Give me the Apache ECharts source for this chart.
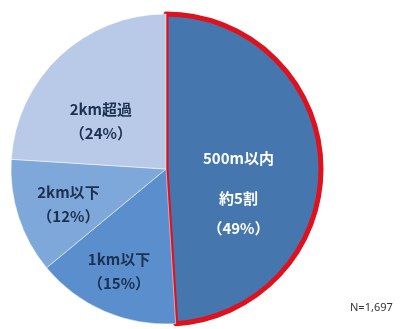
<!DOCTYPE html>
<html><head><meta charset="utf-8">
<script src="https://cdn.jsdelivr.net/npm/echarts@6/dist/echarts.min.js"></script>
<style>html,body{margin:0;padding:0;background:#fff}#c{width:418px;height:329px}</style>
</head><body><div id="c"></div>
<script>
var categories = ['500m以内', '1km以下', '2km以下', '2km超過'];
var values = [49, 15, 12, 24];
var noteText = 'N=1,697';

var colors = ['#4577ae', '#5a8ecc', '#7ea8da', '#b8cae7'];
var offsets = [[-8, 22], [-15, 28], [-21, 10], [-10, 11]];

var data = categories.map(function (c, i) {
  var item = { name: c, value: values[i], itemStyle: { color: colors[i], borderColor: '#ffffff', borderWidth: 0.5 } };
  if (i === 0) {
    item.itemStyle.borderColor = '#e0101c';
    item.itemStyle.borderWidth = 5;
    item.label = {
      formatter: function (p) { return '{a|' + p.name + '}\n{b|約5割}\n{b|（' + p.value + '%）}'; },
      rich: {
        a: { color: '#ffffff', fontSize: 15, fontWeight: 'bold', lineHeight: 50, fontFamily: 'Noto Sans CJK JP' },
        b: { color: '#ffffff', fontSize: 15, fontWeight: 'bold', lineHeight: 30, fontFamily: 'Noto Sans CJK JP' }
      },
      offset: offsets[i]
    };
  } else {
    item.label = { offset: offsets[i] };
  }
  return item;
});

var chart = echarts.init(document.getElementById('c'), null, { renderer: 'canvas' });
chart.setOption({
  animation: false,
  backgroundColor: '#ffffff',
  graphic: [{ type: 'text', left: 350, top: 302, style: { text: noteText, fontSize: 11, fill: '#333333', fontFamily: 'Noto Sans' } }],
  series: [{
    type: 'pie',
    center: [166, 169],
    radius: [0, 155],
    startAngle: 90,
    clockwise: true,
    label: {
      show: true,
      position: 'inside',
      color: '#1c3050',
      fontSize: 15,
      fontWeight: 'bold',
      lineHeight: 24,
      fontFamily: 'Noto Sans CJK JP',
      formatter: function (p) { return p.name + '\n（' + p.value + '%）'; }
    },
    labelLine: { show: false },
    emphasis: { disabled: true },
    data: data
  }]
});
</script></body></html>
